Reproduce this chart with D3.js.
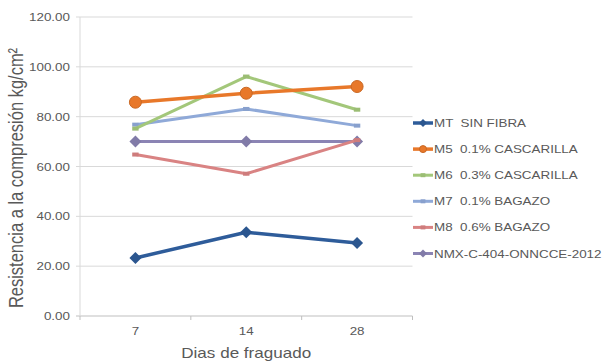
<!DOCTYPE html>
<html><head><meta charset="utf-8">
<script src="https://cdn.jsdelivr.net/npm/d3@7"></script>
<style>body{margin:0;background:#fff;} text{font-family:Arial, "Liberation Sans", sans-serif; white-space:pre;}</style>
</head><body>
<svg id="c" width="608" height="363"></svg>
<script>
const categories = ["7","14","28"];
const yTicks = [0,20,40,60,80,100,120];
const seriesNames = ["MT  SIN FIBRA","M5  0.1% CASCARILLA","M6  0.3% CASCARILLA","M7  0.1% BAGAZO","M8  0.6% BAGAZO","NMX-C-404-ONNCCE-2012"];
const MT = [23.3, 33.6, 29.3];
const M5 = [85.8, 89.4, 92.1];
const M6 = [75.2, 96.1, 82.8];
const M7 = [76.8, 83.1, 76.4];
const M8 = [64.8, 57.1, 70.6];
const NMX = [70, 70, 70];
(function(){
const colors = ["#2E5C9A","#E8782A","#A3C77A","#8FA9D8","#D98383","#8B84B4"];
const markers = ["diamond","circle","dash","dash","dash","diamond"];
const widths = [3.5,3.5,3,3,3,3];
const data = [MT,M5,M6,M7,M8,NMX];
const SX = 1.22;
const txtCol = "#595959";

const svg = d3.select("#c");
const pL=80, pR=412.5, pT=17, pB=316;
const x = d3.scaleBand().domain(categories).range([pL,pR]);
const y = d3.scaleLinear().domain([0,120]).range([pB,pT]);

svg.append("g").selectAll("line").data(yTicks).join("line")
  .attr("x1",pL-4).attr("x2",pR).attr("y1",d=>y(d)).attr("y2",d=>y(d))
  .attr("stroke",d=>d===0?"#bfbfbf":"#d9d9d9").attr("stroke-width",1);
svg.append("line").attr("x1",pL).attr("x2",pL).attr("y1",pT).attr("y2",pB).attr("stroke","#d9d9d9");
svg.append("g").selectAll("line").data(d3.range(categories.length+1)).join("line")
  .attr("x1",i=>pL+i*x.bandwidth()).attr("x2",i=>pL+i*x.bandwidth())
  .attr("y1",pB).attr("y2",pB+4).attr("stroke","#bfbfbf");

svg.append("g").selectAll("text").data(yTicks).join("text")
  .attr("transform",d=>`translate(70,${y(d)+4}) scale(${SX},1)`).attr("text-anchor","end")
  .attr("font-size",11).attr("fill",txtCol).text(d=>d.toFixed(2));
svg.append("g").selectAll("text").data(categories).join("text")
  .attr("transform",d=>`translate(${x(d)+x.bandwidth()/2},335) scale(${SX},1)`).attr("text-anchor","middle")
  .attr("font-size",11).attr("fill",txtCol).text(d=>d);

svg.append("text").attr("transform",`translate(${x("14")+x.bandwidth()/2},358) scale(${SX},1)`).attr("text-anchor","middle")
  .attr("font-size",14).attr("fill",txtCol).text("Dias de fraguado");
svg.append("text").attr("transform",`translate(23,178) scale(${SX},1) rotate(-90)`).attr("text-anchor","middle")
  .attr("font-size",16.5).attr("fill",txtCol)
  .text("Resistencia a la compresión kg/cm²");

const line = d3.line().x((d,i)=>x(categories[i])+x.bandwidth()/2).y(d=>y(d));
function drawMarker(g,type,cx,cy,c,s){
  if(type==="circle") g.append("circle").attr("cx",cx).attr("cy",cy).attr("r",s).attr("fill",c).attr("stroke",d3.color(c).darker(0.4));
  else if(type==="diamond") g.append("path").attr("d",`M${cx},${cy-s}L${cx+s},${cy}L${cx},${cy+s}L${cx-s},${cy}Z`).attr("fill",d3.color(c).darker(0.2));
  else if(type==="dash") g.append("rect").attr("x",cx-s*0.8).attr("y",cy-2).attr("width",s*1.6).attr("height",4).attr("fill",d3.color(c).darker(0.15));
}
const order=[5,4,3,2,1,0];
order.forEach(k=>{
  const g=svg.append("g");
  g.append("path").attr("d",line(data[k])).attr("fill","none").attr("stroke",colors[k]).attr("stroke-width",widths[k]).attr("stroke-linejoin","round");
  data[k].forEach((v,i)=>drawMarker(g,markers[k],x(categories[i])+x.bandwidth()/2,y(v),colors[k],markers[k]==="dash"?4:6));
});

const lg=svg.append("g");
seriesNames.forEach((n,k)=>{
  const ly=123+k*26.1;
  lg.append("line").attr("x1",413).attr("x2",433).attr("y1",ly).attr("y2",ly).attr("stroke",colors[k]).attr("stroke-width",widths[k]);
  drawMarker(lg,markers[k],423,ly,colors[k],markers[k]==="circle"?3.5:(markers[k]==="dash"?3:4));
  lg.append("text").attr("transform",`translate(434,${ly+4}) scale(${SX},1)`).attr("font-size",11).attr("fill",txtCol).text(n);
});
})();
</script>
</body></html>
